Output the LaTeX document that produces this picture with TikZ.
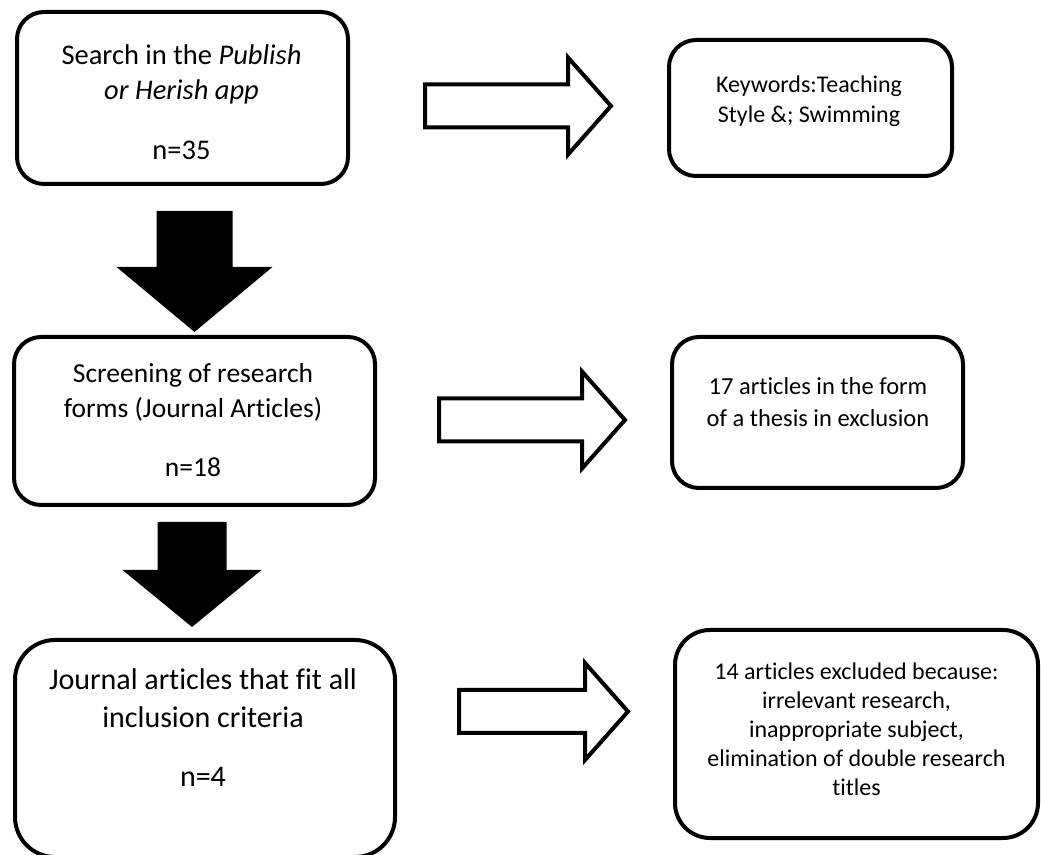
\documentclass[tikz,border=0pt]{standalone}
\usepackage{fontspec}
\setmainfont[Ligatures=NoCommon]{Carlito}
\usetikzlibrary{calc}

\begin{document}
\begin{tikzpicture}[x=1pt,y=1pt,
		box/.style={draw,line width=4pt,rounded corners=27pt},
		txt/.style={align=center,inner sep=0pt},
		blockdown/.style n args={3}{fill=black,to path={let \p1=(\tikztostart), \p2=(\tikztotarget) in
			(\x2-#1,\y1) -- (\x2+#1,\y1) -- (\x2+#1,\y2+#3) -- (\x2+#2,\y2+#3) -- (\x2,\y2)
			-- (\x2-#2,\y2+#3) -- (\x2-#1,\y2+#3) -- cycle}},
		blockright/.style={line width=4pt,to path={let \p1=(\tikztostart), \p2=(\tikztotarget) in
			(\x1,\y2-21.5pt) -- (\x2-43pt,\y2-21.5pt) -- (\x2-43pt,\y2-48.5pt) -- (\x2,\y2)
			-- (\x2-43pt,\y2+48.5pt) -- (\x2-43pt,\y2+21.5pt) -- (\x1,\y2+21.5pt) -- cycle}}]
			\useasboundingbox (0,0) rectangle (1041,854);
			% left column
			\node[box,minimum width=331pt,minimum height=172pt] (search) at (182.5,756) {};
			\node[txt,font=\fontsize{28.5pt}{35pt}\selectfont] (searchtext) at (181.5,751.5)
				{Search in the \textit{Publish}\\ \textit{or Herish app}\\[25pt] n=35};
			\node[box,minimum width=361pt,minimum height=168pt] (screening) at (194.5,433) {};
			\node[txt,font=\fontsize{27.5pt}{35pt}\selectfont] (screeningtext) at (193,433.5)
				{Screening of research\\ forms (Journal Articles)\\[24pt] n=18};
			\node[box,rounded corners=40pt,minimum width=380pt,minimum height=217pt] (journal) at (205,105.5) {};
			\node[txt,font=\fontsize{30pt}{38pt}\selectfont] (journaltext) at (203,126)
				{Journal articles that fit all\\ inclusion criteria\\[21pt] n=4};
			% right column
			\node[box,minimum width=283pt,minimum height=136pt] (keywords) at (810.5,746) {};
			\node[txt,font=\fontsize{24pt}{30pt}\selectfont] (keywordstext) at (809,753)
				{Keywords:Teaching\\ Style \&; Swimming};
			\node[box,minimum width=291pt,minimum height=151pt] (thesis) at (817.5,441.5) {};
			\node[txt,font=\fontsize{24.5pt}{32pt}\selectfont] (thesistext) at (818,451.5)
				{17 articles in the form\\ of a thesis in exclusion};
			\node[box,rounded corners=35pt,minimum width=363pt,minimum height=208pt] (excluded) at (856.5,120) {};
			\node[txt,font=\fontsize{24pt}{29pt}\selectfont] (excludedtext) at (856.5,124.5)
				{14 articles excluded because:\\ irrelevant research,\\ inappropriate subject,\\ elimination of double research\\ titles};
			% arrow ends
			\coordinate (down1) at ([yshift=-25pt]search.south);
			\coordinate (tip1) at ([yshift=3pt]screening.north);
			\coordinate (down2) at ([yshift=-15pt]screening.south);
			\coordinate (tip2) at ([xshift=-13pt,yshift=11pt]journal.north);
			\coordinate (right1) at ([xshift=75pt]search.east);
			\coordinate (tip3) at ([xshift=-56pt,yshift=2pt]keywords.west);
			\coordinate (right2) at ([xshift=62pt]screening.east);
			\coordinate (tip4) at ([xshift=-45pt,yshift=-7.5pt]thesis.west);
			\coordinate (right3) at ([xshift=62pt]journal.east);
			\coordinate (tip5) at ([xshift=-45pt,yshift=22.5pt]excluded.west);
			% arrows
			\fill[blockdown={38pt}{78pt}{65pt}] (down1) to (tip1);
			\fill[blockdown={34.5pt}{69.5pt}{57pt}] (down2) to (tip2);
			\draw[blockright] (right1) to (tip3);
			\draw[blockright] (right2) to (tip4);
			\draw[blockright] (right3) to (tip5);
		\end{tikzpicture}
\end{document}
